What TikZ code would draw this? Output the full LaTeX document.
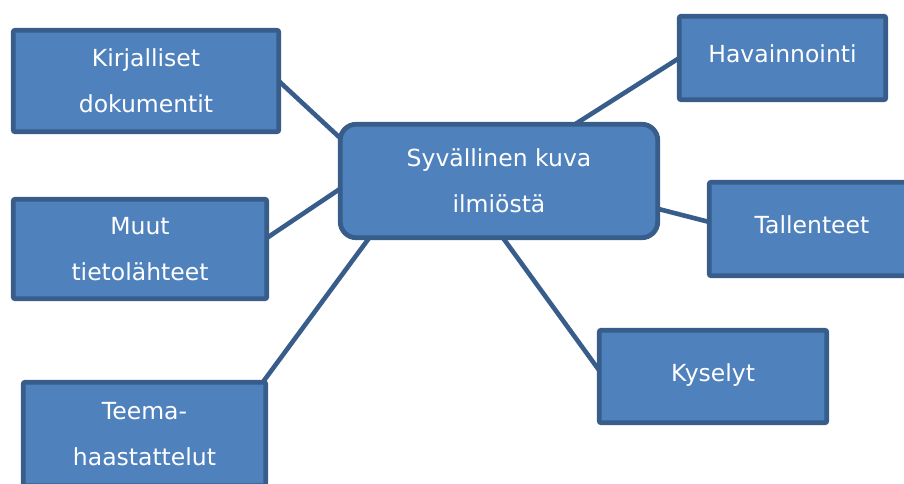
\documentclass[tikz,border=0pt]{standalone}
\usepackage{fontspec}
\setmainfont{DejaVu Sans}
\usetikzlibrary{calc,backgrounds}
\definecolor{boxfill}{HTML}{4F81BD}
\definecolor{boxline}{HTML}{385D8A}
\tikzset{
  mybox/.style={draw=boxline, fill=boxfill, line width=4.8pt, rounded corners=2pt,
    inner sep=0pt, outer sep=0pt, text=white, align=center,
    font=\fontsize{23.5}{46}\selectfont},
  onebox/.style={mybox, text height=17pt, text depth=8pt},
  hub/.style={mybox, rounded corners=16pt},
  conn/.style={draw=boxline, line width=4.6pt}
}
\begin{document}
\begin{tikzpicture}[x=1pt,y=-1pt]
\useasboundingbox (0,0) rectangle (904,483);
\clip (0,0) rectangle (904,483);
\node[hub, minimum width=317.5pt, minimum height=113.5pt] (c) at (499,181) {Syvällinen kuva\\ilmiöstä};
\node[mybox, minimum width=265.5pt, minimum height=101.5pt] (kir) at (146,81) {Kirjalliset\\dokumentit};
\node[mybox, minimum width=253.5pt, minimum height=99.5pt] (muut) at (140,249) {Muut\\tietolähteet};
\node[mybox, minimum width=242.5pt, minimum height=103.5pt] (teema) at (144.5,434) {Teema-\\haastattelut};
\node[onebox, minimum width=206.5pt, minimum height=83.5pt] (hav) at (782.5,58) {Havainnointi};
\node[onebox, minimum width=205.5pt, minimum height=93.5pt] (tall) at (812,229) {Tallenteet};
\node[onebox, minimum width=227.5pt, minimum height=92.5pt] (kys) at (713,376.5) {Kyselyt};
\begin{pgfonlayer}{background}
\draw[conn] (kir.east) -- ($(c.north west)+(12,25)$);
\draw[conn] ($(muut.east)+(0,-11)$) -- ($(c.west)+(7,3)$);
\draw[conn] ($(teema.north east)+(-3,0)$) -- ($(c.south west)+(32,-4)$);
\draw[conn] (hav.west) -- ($(c.north east)+(-89,4)$);
\draw[conn] ($(tall.west)+(0,-7)$) -- ($(c.east)+(-5,26.5)$);
\draw[conn] ($(kys.west)+(0,-6)$) -- ($(c.south)+(1,-4)$);
\end{pgfonlayer}
\end{tikzpicture}
\end{document}
